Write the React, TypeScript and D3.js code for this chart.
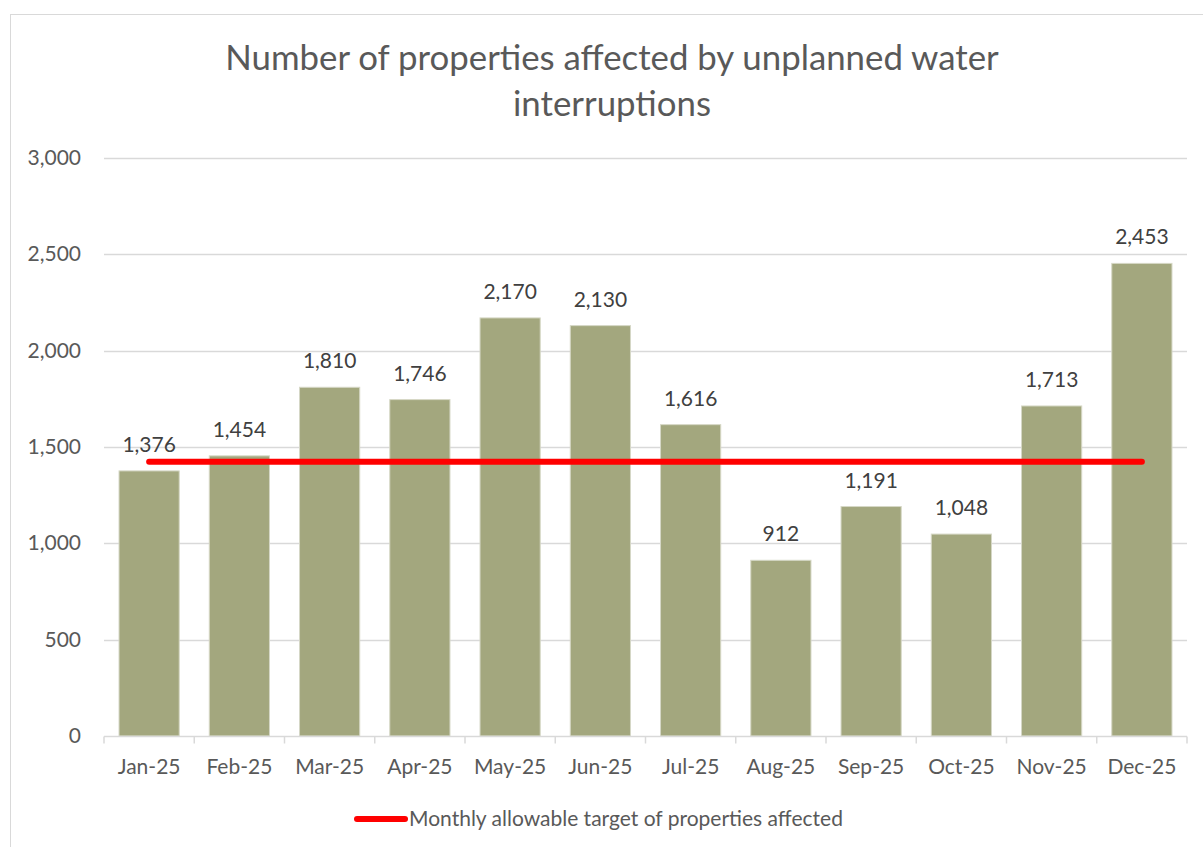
import React, { useEffect, useRef } from "react";
import * as d3 from "d3";

const months = ["Jan-25", "Feb-25", "Mar-25", "Apr-25", "May-25", "Jun-25", "Jul-25", "Aug-25", "Sep-25", "Oct-25", "Nov-25", "Dec-25"];
const affected = [1376, 1454, 1810, 1746, 2170, 2130, 1616, 912, 1191, 1048, 1713, 2453];
const target = [1424, 1424, 1424, 1424, 1424, 1424, 1424, 1424, 1424, 1424, 1424, 1424];
const yTicks = [0, 500, 1000, 1500, 2000, 2500, 3000];
const titleLines = ["Number of properties affected by unplanned water", "interruptions"];
const legendLabel = "Monthly allowable target of properties affected";

const W = 1203;
const H = 847;
const FONT = "Lato, 'Open Sans', sans-serif";

const App = () => {
  const svgRef = useRef<SVGSVGElement>(null);

  useEffect(() => {
    const svg = d3.select(svgRef.current);
    svg.selectAll("*").remove();

    const margin = { top: 158, right: 16, bottom: 111, left: 104 };

    // chart border
    svg.append("rect")
      .attr("x", 10.5).attr("y", 14.5)
      .attr("width", W + 20).attr("height", H + 20)
      .attr("fill", "white").attr("stroke", "#d9d9d9");

    const x = d3.scaleBand()
      .domain(months)
      .range([margin.left, W - margin.right])
      .paddingInner(0.333)
      .paddingOuter(0.1665);

    const y = d3.scaleLinear()
      .domain([0, 3000])
      .range([H - margin.bottom, margin.top]);

    // title
    svg.append("g")
      .selectAll("text")
      .data(titleLines)
      .join("text")
      .attr("x", 612)
      .attr("y", (d, i) => 70 + i * 46)
      .attr("text-anchor", "middle")
      .attr("font-family", FONT)
      .attr("font-size", 34.8)
      .attr("fill", "#595959")
      .text(d => d);

    // gridlines
    svg.append("g")
      .selectAll("line")
      .data(yTicks.filter(t => t > 0))
      .join("line")
      .attr("x1", margin.left).attr("x2", W - margin.right)
      .attr("y1", d => Math.round(y(d)) + 0.5).attr("y2", d => Math.round(y(d)) + 0.5)
      .attr("stroke", "#d9d9d9").attr("stroke-width", 1.5);

    // y labels
    svg.append("g")
      .selectAll("text")
      .data(yTicks)
      .join("text")
      .attr("x", 81)
      .attr("y", d => y(d) + 7)
      .attr("text-anchor", "end")
      .attr("font-family", FONT)
      .attr("font-size", 21)
      .attr("fill", "#595959")
      .text(d => d3.format(",")(d));

    // bars
    svg.append("g")
      .selectAll("rect")
      .data(affected)
      .join("rect")
      .attr("x", (d, i) => x(months[i])!)
      .attr("y", d => y(d))
      .attr("width", x.bandwidth())
      .attr("height", d => y(0) - y(d))
      .attr("fill", "#a3a77e")
      .attr("stroke", "#d6d8c6")
      .attr("stroke-width", 1);

    // x axis
    const axisY = Math.round(y(0)) + 0.5;
    const xa = svg.append("g");
    xa.append("line")
      .attr("x1", margin.left).attr("x2", W - margin.right)
      .attr("y1", axisY).attr("y2", axisY)
      .attr("stroke", "#d9d9d9").attr("stroke-width", 1.5);
    const step = x.step();
    xa.selectAll("line.tick")
      .data(d3.range(months.length + 1))
      .join("line")
      .attr("class", "tick")
      .attr("x1", i => margin.left + i * step).attr("x2", i => margin.left + i * step)
      .attr("y1", axisY).attr("y2", axisY + 7)
      .attr("stroke", "#d9d9d9").attr("stroke-width", 1.5);
    xa.selectAll("text")
      .data(months)
      .join("text")
      .attr("x", d => x(d)! + x.bandwidth() / 2)
      .attr("y", 774)
      .attr("text-anchor", "middle")
      .attr("font-family", FONT)
      .attr("font-size", 21)
      .attr("fill", "#595959")
      .text(d => d);

    // target line
    const line = d3.line<number>()
      .x((d, i) => x(months[i])! + x.bandwidth() / 2)
      .y(d => y(d));
    svg.append("path")
      .datum(target)
      .attr("d", line)
      .attr("fill", "none")
      .attr("stroke", "#ff0000")
      .attr("stroke-width", 6)
      .attr("stroke-linecap", "round");

    // data labels
    svg.append("g")
      .selectAll("text")
      .data(affected)
      .join("text")
      .attr("x", (d, i) => x(months[i])! + x.bandwidth() / 2)
      .attr("y", d => y(d) - 19)
      .attr("text-anchor", "middle")
      .attr("font-family", FONT)
      .attr("font-size", 21)
      .attr("fill", "#404040")
      .text(d => d3.format(",")(d));

    // legend
    const lg = svg.append("g");
    lg.append("line")
      .attr("x1", 357).attr("x2", 405)
      .attr("y1", 819).attr("y2", 819)
      .attr("stroke", "#ff0000").attr("stroke-width", 6)
      .attr("stroke-linecap", "round");
    lg.append("text")
      .attr("x", 409).attr("y", 826)
      .attr("font-family", FONT)
      .attr("font-size", 21)
      .attr("fill", "#595959")
      .text(legendLabel);
  }, []);

  return (
    <svg ref={svgRef} width={W} height={H} style={{ position: "absolute", left: 0, top: 0 }} />
  );
};

export default App;
